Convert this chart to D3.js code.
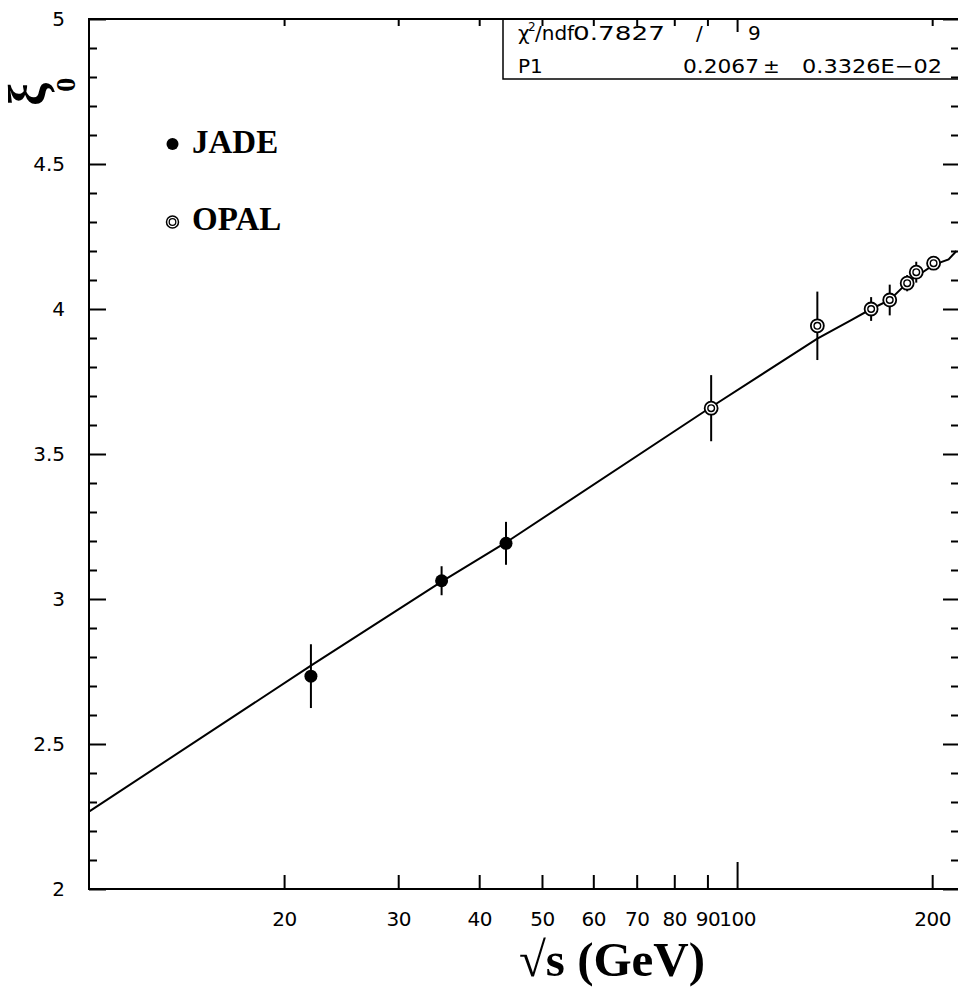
<!DOCTYPE html>
<html>
<head>
<meta charset="utf-8">
<script src="https://cdn.jsdelivr.net/npm/d3@7"></script>
<style>
body{margin:0;background:#fff}
</style>
</head>
<body>
<svg></svg>
<script>
// JADE points (filled)
var jadeE = [22, 35, 44];
var jadeXi = [2.734, 3.063, 3.192];
var jadeErr = [0.110, 0.050, 0.074];

// OPAL points (double ring)
var opalE = [91.2, 133, 161, 172, 183, 189, 201];
var opalXi = [3.658, 3.942, 4.000, 4.031, 4.089, 4.127, 4.158];
var opalErr = [0.114, 0.118, 0.041, 0.053, 0.028, 0.036, 0.020];

// fitted curve as drawn
var fitE = [10, 22, 35, 44, 91.2, 133, 150, 161, 172, 183, 189, 201, 212, 218];
var fitXi = [2.267, 2.770, 3.060, 3.195, 3.662, 3.898, 3.962, 4.000, 4.031, 4.090, 4.112, 4.152, 4.171, 4.200];

var xLabels = [20, 30, 40, 50, 60, 70, 80, 90, 100, 200];
var xMinor = [20, 30, 40, 50, 60, 70, 80, 90, 200];
var xMajor = [100];
var yMajor = [2, 2.5, 3, 3.5, 4, 4.5, 5];
var yMinor = [2.1, 2.2, 2.3, 2.4, 2.6, 2.7, 2.8, 2.9, 3.1, 3.2, 3.3, 3.4, 3.6, 3.7, 3.8, 3.9, 4.1, 4.2, 4.3, 4.4, 4.6, 4.7, 4.8, 4.9];

var screen = {width:958, height:990}
var margins = {top: 19, left: 89, right: -1, bottom: 101}
var width = screen.width - margins.left - margins.right
var height = screen.height - margins.top - margins.bottom

var svg = d3.select("svg")
  .attr("width", screen.width)
  .attr("height", screen.height);

svg.append("rect").attr("width", screen.width).attr("height", screen.height).attr("fill", "#fff");

var xScale = d3.scaleLog()
  .domain([10, 220])
  .range([margins.left, margins.left + width]);
var yScale = d3.scaleLinear()
  .domain([2, 5])
  .range([margins.top + height, margins.top]);

var tickFont = "DejaVu Sans, sans-serif";

var clean = function(g){
  g.select(".domain").remove();
  g.selectAll("line").attr("stroke", "#000").attr("stroke-width", 2);
  g.selectAll("text").attr("fill", "#000").attr("font-family", tickFont).attr("font-size", 20);
}

// bottom
svg.append("g").attr("transform", "translate(0," + (margins.top + height) + ")")
  .call(d3.axisBottom(xScale).tickValues(xMinor).tickSize(-14).tickFormat("")).call(clean);
svg.append("g").attr("transform", "translate(0," + (margins.top + height) + ")")
  .call(d3.axisBottom(xScale).tickValues(xMajor).tickSize(-27).tickFormat("")).call(clean);
var xl = svg.append("g").attr("transform", "translate(0," + (margins.top + height) + ")")
  .call(d3.axisBottom(xScale).tickValues(xLabels).tickSize(0).tickPadding(23)
    .tickFormat(function(d){ return String(d); })).call(clean);
// squeeze labels a little like the original's narrow spacing
xl.selectAll("text").attr("letter-spacing", -0.5);

// top
svg.append("g").attr("transform", "translate(0," + margins.top + ")")
  .call(d3.axisTop(xScale).tickValues(xMinor).tickSize(-7).tickFormat("")).call(clean);
svg.append("g").attr("transform", "translate(0," + margins.top + ")")
  .call(d3.axisTop(xScale).tickValues(xMajor).tickSize(-13).tickFormat("")).call(clean);

// left
svg.append("g").attr("transform", "translate(" + margins.left + ",0)")
  .call(d3.axisLeft(yScale).tickValues(yMajor).tickSize(-17).tickFormat("")).call(clean);
svg.append("g").attr("transform", "translate(" + margins.left + ",0)")
  .call(d3.axisLeft(yScale).tickValues(yMinor).tickSize(-8).tickFormat("")).call(clean);
svg.append("g").attr("transform", "translate(" + margins.left + ",0)")
  .call(d3.axisLeft(yScale).tickValues(yMajor).tickSize(0).tickPadding(24)
    .tickFormat(function(d){ return String(d); })).call(clean);

// right
svg.append("g").attr("transform", "translate(" + (margins.left + width) + ",0)")
  .call(d3.axisRight(yScale).tickValues(yMajor).tickSize(-16).tickFormat("")).call(clean);
svg.append("g").attr("transform", "translate(" + (margins.left + width) + ",0)")
  .call(d3.axisRight(yScale).tickValues(yMinor).tickSize(-8).tickFormat("")).call(clean);

svg.append("rect")
  .attr("x", margins.left).attr("y", margins.top)
  .attr("width", width).attr("height", height)
  .attr("fill", "none").attr("stroke", "#000").attr("stroke-width", 2);

// fit curve
var line = d3.line()
  .x(function(d, i){ return xScale(fitE[i]); })
  .y(function(d){ return yScale(d); });
svg.append("path").datum(fitXi)
  .attr("d", line)
  .attr("fill", "none").attr("stroke", "#000").attr("stroke-width", 2);

// error bars
var bars = function(E, Xi, Err){
  svg.append("g").selectAll("line")
    .data(Xi).enter().append("line")
    .attr("x1", function(d, i){ return xScale(E[i]); })
    .attr("x2", function(d, i){ return xScale(E[i]); })
    .attr("y1", function(d, i){ return yScale(d - Err[i]); })
    .attr("y2", function(d, i){ return yScale(d + Err[i]); })
    .attr("stroke", "#000").attr("stroke-width", 2);
}
bars(jadeE, jadeXi, jadeErr);
bars(opalE, opalXi, opalErr);

svg.append("g").selectAll("circle")
  .data(jadeXi).enter().append("circle")
  .attr("cx", function(d, i){ return xScale(jadeE[i]); })
  .attr("cy", function(d){ return yScale(d); })
  .attr("r", 6.5).attr("fill", "#000");

var opal = svg.append("g").selectAll("g")
  .data(opalXi).enter().append("g")
  .attr("transform", function(d, i){ return "translate(" + xScale(opalE[i]) + "," + yScale(d) + ")"; });
opal.append("circle").attr("r", 6.5).attr("fill", "#fff").attr("stroke", "#000").attr("stroke-width", 1.8);
opal.append("circle").attr("r", 3.3).attr("fill", "none").attr("stroke", "#000").attr("stroke-width", 1.4);

// legend
svg.append("circle").attr("cx", 172.5).attr("cy", 144).attr("r", 6).attr("fill", "#000");
svg.append("circle").attr("cx", 172.5).attr("cy", 222).attr("r", 6).attr("fill", "none").attr("stroke", "#000").attr("stroke-width", 1.5);
svg.append("circle").attr("cx", 172.5).attr("cy", 222).attr("r", 3.3).attr("fill", "none").attr("stroke", "#000").attr("stroke-width", 1.3);
svg.append("text").attr("x", 192).attr("y", 153).text("JADE")
  .attr("font-family", "Liberation Serif, serif").attr("font-weight", "bold").attr("font-size", 33);
svg.append("text").attr("x", 192).attr("y", 230).text("OPAL")
  .attr("font-family", "Liberation Serif, serif").attr("font-weight", "bold").attr("font-size", 33);

// stats box
svg.append("rect").attr("x", 503).attr("y", margins.top).attr("width", 470).attr("height", 60)
  .attr("fill", "none").attr("stroke", "#000").attr("stroke-width", 1.5);
var st = svg.append("g").attr("font-family", tickFont).attr("font-size", 20).attr("fill", "#000");
st.append("text").attr("x", 518).attr("y", 40).text("χ");
st.append("text").attr("x", 528).attr("y", 31).attr("font-size", 12).text("2");
st.append("text").attr("x", 535).attr("y", 40).text("/ndf");
st.append("text").attr("x", 573).attr("y", 40).attr("textLength", 92).attr("lengthAdjust", "spacingAndGlyphs").text("0.7827");
st.append("text").attr("x", 696).attr("y", 40).text("/");
st.append("text").attr("x", 748).attr("y", 40).text("9");
st.append("text").attr("x", 518).attr("y", 73).text("P1");
st.append("text").attr("x", 683).attr("y", 73).attr("textLength", 76).attr("lengthAdjust", "spacingAndGlyphs").text("0.2067");
st.append("text").attr("x", 763).attr("y", 73).text("±");
st.append("text").attr("x", 802).attr("y", 73).attr("textLength", 140).attr("lengthAdjust", "spacingAndGlyphs").text("0.3326E\u221202");

// axis titles
svg.append("text").attr("x", 612).attr("y", 976).attr("text-anchor", "middle")
  .attr("font-family", "Liberation Serif, serif").attr("font-weight", "bold").attr("font-size", 49)
  .text("√s (GeV)");

var yt = svg.append("text").attr("transform", "translate(45,106) rotate(-90)")
  .attr("font-family", "Liberation Serif, serif").attr("font-weight", "bold").attr("font-size", 52);
yt.append("tspan").text("ξ");
yt.append("tspan").attr("dx", -9).attr("dy", 30).attr("font-size", 28).text("0");
</script>
</body>
</html>
